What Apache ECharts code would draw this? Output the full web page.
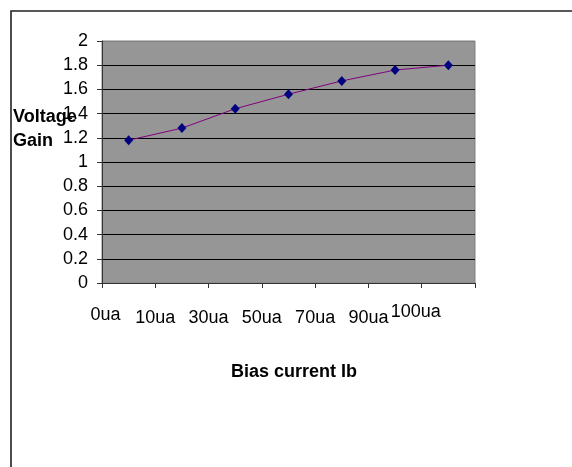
<!DOCTYPE html>
<html>
<head>
<meta charset="utf-8">
<script src="https://cdn.jsdelivr.net/npm/echarts@6/dist/echarts.min.js"></script>
<style>
  html, body { margin: 0; padding: 0; background: #fff; }
  #chart { width: 572px; height: 467px; }
</style>
</head>
<body>
<div id="chart"></div>
<script>
// bias current categories and measured voltage gain
const biasLabels = ["0ua", "10ua", "30ua", "50ua", "70ua", "90ua", "100ua"];
const gainValues = [1.18, 1.28, 1.44, 1.56, 1.67, 1.76, 1.8];
const yTicks = [0, 0.2, 0.4, 0.6, 0.8, 1, 1.2, 1.4, 1.6, 1.8, 2];

const font = "'Liberation Sans', Arial, sans-serif";
const fs = 18;

const chart = echarts.init(document.getElementById("chart"));

// gridlines black, the top one is the gray plot border
const splitColors = yTicks.map((v, i) => (i === yTicks.length - 1 ? "#808080" : "#000"));

const option = {
  animation: false,
  textStyle: { fontFamily: font },
  title: {
    text: "Voltage\nGain",
    left: 13,
    top: 105,
    padding: 0,
    textStyle: {
      fontFamily: font,
      fontSize: fs,
      fontWeight: "bold",
      color: "#000",
      lineHeight: 24,
    },
  },
  graphic: [
    {
      type: "rect",
      shape: { x: 11, y: 11, width: 620, height: 520 },
      style: { fill: null, stroke: "#222", lineWidth: 1.6 },
      silent: true,
    },
  ],
  grid: {
    left: 102,
    top: 41,
    right: 97,
    bottom: 184,
    show: true,
    backgroundColor: "#969696",
    borderColor: "#808080",
    borderWidth: 1,
    outerBoundsMode: "none",
  },
  xAxis: [
    {
      type: "category",
      data: biasLabels,
      boundaryGap: true,
      position: "bottom",
      axisLine: { lineStyle: { color: "#333", width: 1 } },
      axisTick: { show: true, inside: false, length: 5, lineStyle: { color: "#333" } },
      axisLabel: { show: false },
      splitLine: { show: false },
      name: "Bias current Ib",
      nameLocation: "middle",
      nameGap: 80,
      nameTextStyle: {
        fontFamily: font,
        fontSize: fs,
        fontWeight: "bold",
        color: "#000",
        padding: [0, 0, 0, 11],
      },
    },
    {
      // tick-aligned labels, as in the original spreadsheet chart
      type: "category",
      data: biasLabels.concat([""]),
      boundaryGap: false,
      position: "bottom",
      axisLine: { show: false },
      axisTick: { show: false },
      splitLine: { show: false },
      axisLabel: {
        interval: 0,
        margin: 35,
        verticalAlign: "middle",
        color: "#000",
        fontFamily: font,
        fontSize: fs,
        formatter: function (value, index) {
          if (index === 0) return "{first|" + value + "}";
          if (value === "100ua") return "{last|" + value + "}";
          return value;
        },
        rich: {
          first: { fontSize: fs, fontFamily: font, color: "#000", padding: [0, 0, 6, 7] },
          last: { fontSize: fs, fontFamily: font, color: "#000", padding: [0, 12, 12, 0] },
        },
      },
    },
  ],
  yAxis: {
    type: "value",
    min: 0,
    max: 2,
    interval: 0.2,
    axisLine: { show: true, lineStyle: { color: "#333", width: 1 } },
    axisTick: { show: true, inside: false, length: 5, lineStyle: { color: "#333" } },
    axisLabel: {
      margin: 14,
      color: "#000",
      fontFamily: font,
      fontSize: fs,
    },
    splitLine: { show: true, lineStyle: { color: splitColors, width: 1 } },
  },
  series: [
    {
      type: "line",
      xAxisIndex: 0,
      data: gainValues,
      symbol: "diamond",
      symbolSize: [9, 10],
      lineStyle: { color: "#800080", width: 1 },
      itemStyle: { color: "#000080" },
    },
  ],
};

chart.setOption(option);
</script>
</body>
</html>
